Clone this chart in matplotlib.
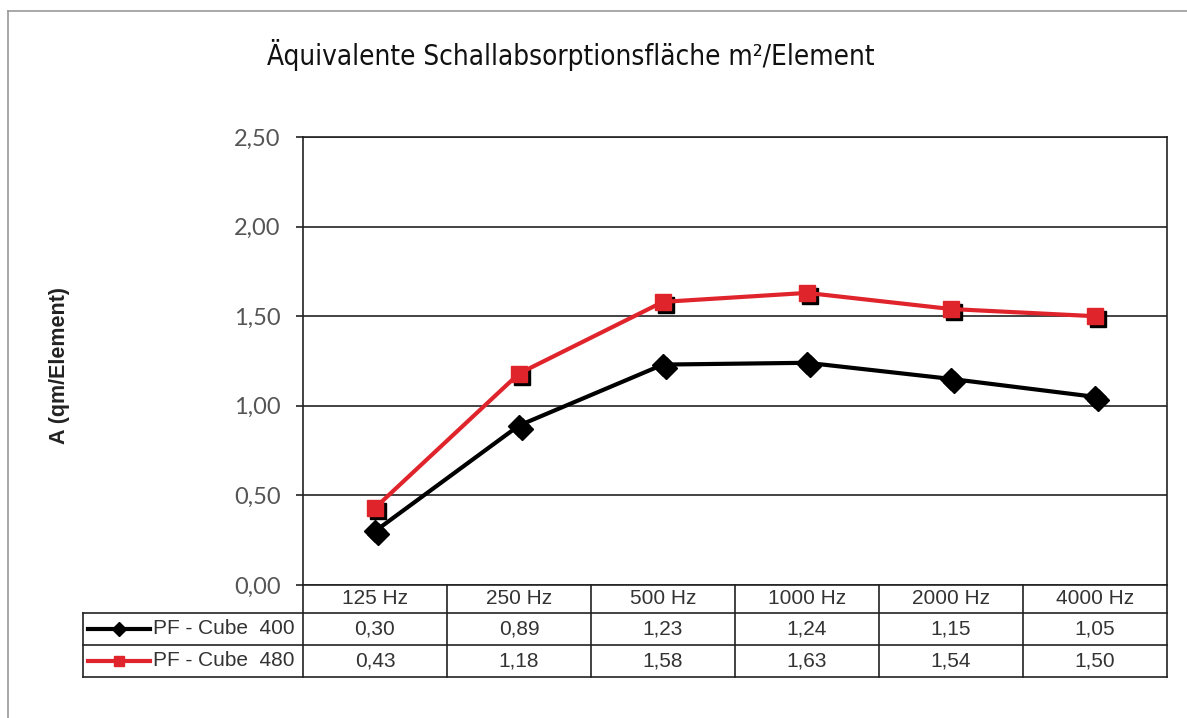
import matplotlib.pyplot as plt
import matplotlib.transforms as mtransforms
from matplotlib.lines import Line2D
import numpy as np

# data
categories = ['125 Hz', '250 Hz', '500 Hz', '1000 Hz', '2000 Hz', '4000 Hz']
series_names = ['PF - Cube  400', 'PF - Cube  480']
cube_400 = [0.30, 0.89, 1.23, 1.24, 1.15, 1.05]
cube_480 = [0.43, 1.18, 1.58, 1.63, 1.54, 1.50]
y_ticks = [0.0, 0.5, 1.0, 1.5, 2.0, 2.5]

series = [cube_400, cube_480]
colors = ['black', '#e0242c']
markers = ['D', 's']
msizes = [11.5, 11]

W, H = 1187, 718
fig = plt.figure(figsize=(W / 100, H / 100), dpi=100)

# axes box in pixels: x 303..1167, y 137..585
ax = fig.add_axes([303 / W, 1 - 585 / H, 864 / W, 448 / H])
x = np.arange(len(categories))
ax.set_xlim(-0.5, len(categories) - 0.5)
ax.set_ylim(0, 2.5)

# grid
for yv in y_ticks:
    ax.axhline(yv, color='#222222', lw=1.2, zorder=1)

# shadow + lines
shadow = mtransforms.offset_copy(ax.transData, fig=fig, x=3, y=-3, units='dots')
for vals, c, m, ms in zip(series, colors, markers, msizes):
    ax.plot(x, vals, linestyle='none', marker=m, ms=ms, color='black',
            transform=shadow, zorder=3)
    ax.plot(x, vals, color=c, lw=3, marker=m, ms=ms, zorder=4)

ax.set_xticks([])
ax.set_yticks(y_ticks)
ax.set_yticklabels([f'{v:.2f}'.replace('.', ',') for v in y_ticks],
                   fontsize=17, color='#555555', family='Lato')
ax.tick_params(axis='y', direction='out', length=5, width=1.2, pad=11, color='#222222')
for s in ax.spines.values():
    s.set_color('#222222')
    s.set_linewidth(1.2)

# data table below the axes
trans = ax.get_xaxis_transform()
row_y = [0, -28 / 448, -60 / 448, -92 / 448]
left_x = -0.5 - 220 / 144
lc = '#222222'
tfont = dict(fontsize=15, color='#333333', family='Liberation Sans')

for xv in np.arange(-0.5, len(categories), 1.0):
    ax.plot([xv, xv], [row_y[0], row_y[3]], color=lc, lw=1.2,
            transform=trans, clip_on=False)
for yv in row_y[1:]:
    ax.plot([left_x, len(categories) - 0.5], [yv, yv], color=lc, lw=1.2,
            transform=trans, clip_on=False)
ax.plot([left_x, left_x], [row_y[1], row_y[3]], color=lc, lw=1.2,
        transform=trans, clip_on=False)

for i, cat in enumerate(categories):
    ax.text(i, (row_y[0] + row_y[1]) / 2, cat, transform=trans, ha='center',
            va='center', **tfont)

for r, (name, vals, c, m, ms) in enumerate(zip(series_names, series, colors, markers, msizes)):
    yc = (row_y[r + 1] + row_y[r + 2]) / 2
    for i, v in enumerate(vals):
        ax.text(i, yc, f'{v:.2f}'.replace('.', ','), transform=trans, ha='center',
                va='center', **tfont)
    x0 = left_x + 5 / 144
    x1 = left_x + 67 / 144
    ax.plot([x0, x1], [yc, yc], color=c, lw=3, transform=trans, clip_on=False)
    ax.plot([(x0 + x1) / 2], [yc], marker=m, ms=ms * 0.6, color=c,
            transform=trans, clip_on=False)
    ax.text(left_x + 70 / 144, yc, name, transform=trans, ha='left', va='center',
            **tfont)

# title and y label
fig.text(571 / W, 1 - 55 / H, 'Äquivalente Schallabsorptionsfläche m²/Element',
         ha='center', va='center', fontsize=20, fontstretch='condensed',
         family='DejaVu Sans', color='#111111')
fig.text(60 / W, 1 - 366 / H, 'A (qm/Element)', rotation=90, ha='center',
         va='center', fontsize=15.5, fontweight='bold', family='Liberation Sans',
         color='#222222')

# outer frame
fig.add_artist(Line2D([8 / W, 1], [1 - 11 / H, 1 - 11 / H], color='#999999', lw=1.2))
fig.add_artist(Line2D([8 / W, 8 / W], [0, 1 - 11 / H], color='#999999', lw=1.2))

fig.savefig('out.png', dpi=100)
